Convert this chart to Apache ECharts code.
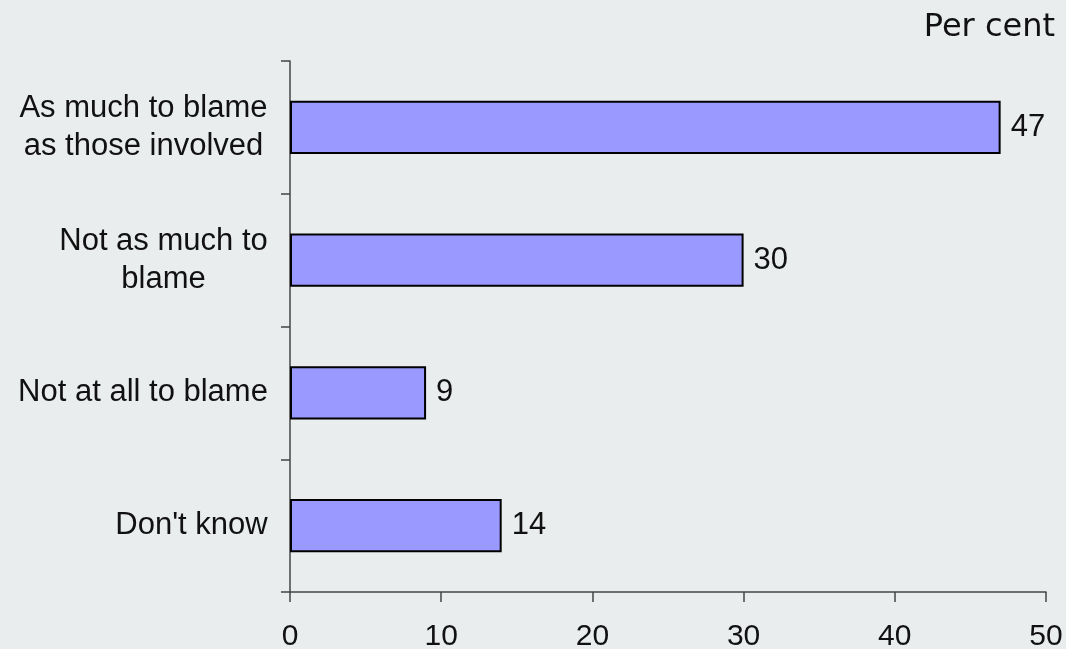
<!DOCTYPE html>
<html>
<head>
<meta charset="utf-8">
<script src="https://cdn.jsdelivr.net/npm/echarts@6/dist/echarts.min.js"></script>
<style>
  html, body { margin: 0; padding: 0; background: #eaedee; }
  #chart { width: 1066px; height: 649px; }
</style>
</head>
<body>
<div id="chart"></div>
<script>
var categories = ['As much to blame\nas those involved', 'Not as much to\nblame', 'Not at all to blame', "Don't know"];
var values = [47, 30, 9, 14];
var unitLabel = 'Per cent';

var labelFont = '31px "Liberation Sans", Arial, sans-serif';

// each category label gets its own rich style so that its lines centre on the widest line
var ctx = document.createElement('canvas').getContext('2d');
ctx.font = labelFont;
var rich = {};
categories.forEach(function(c, i){
	var w = 0;
	c.split('\n').forEach(function(line){
		w = Math.max(w, ctx.measureText(line).width);
	});
	rich['c' + i] = {
		width: Math.ceil(w),
		align: 'center',
		fontSize: 31,
		lineHeight: 38,
		fontFamily: '"Liberation Sans", Arial, sans-serif',
		color: '#111'
	};
});

var option = {
	backgroundColor: '#eaedee',
	animation: false,
	title: {
		text: unitLabel,
		right: 6,
		top: 7,
		textStyle: {
			fontFamily: '"DejaVu Sans", sans-serif',
			fontSize: 32,
			fontWeight: 'normal',
			color: '#111'
		}
	},
	grid: {
		left: 290,
		right: 20,
		top: 61,
		bottom: 57,
		containLabel: false,
		outerBoundsMode: 'none'
	},
	xAxis: {
		type: 'value',
		min: 0,
		max: 50,
		interval: 10,
		splitLine: { show: false },
		axisLine: { show: true, lineStyle: { color: '#444', width: 1.5 } },
		axisTick: { show: true, length: 10, lineStyle: { color: '#444', width: 1.5 } },
		axisLabel: {
			margin: 30,
			fontSize: 30,
			fontFamily: '"Liberation Sans", Arial, sans-serif',
			color: '#111'
		}
	},
	yAxis: {
		type: 'category',
		inverse: true,
		data: categories,
		axisLine: { show: true, lineStyle: { color: '#444', width: 1.5 } },
		axisTick: { show: true, length: 9, lineStyle: { color: '#444', width: 1.5 } },
		axisLabel: {
			margin: 22,
			formatter: function(value, idx){
				return value.split('\n').map(function(line){
					return '{c' + idx + '|' + line + '}';
				}).join('\n');
			},
			rich: rich
		}
	},
	series: [
		{
			type: 'bar',
			data: values,
			barWidth: '40%',
			itemStyle: {
				color: '#9999ff',
				borderColor: '#000',
				borderWidth: 2
			},
			label: {
				show: true,
				position: 'right',
				distance: 10,
				fontSize: 31,
				fontFamily: '"Liberation Sans", Arial, sans-serif',
				color: '#111'
			}
		}
	]
};

var chart = echarts.init(document.getElementById('chart'));
chart.setOption(option);
</script>
</body>
</html>
